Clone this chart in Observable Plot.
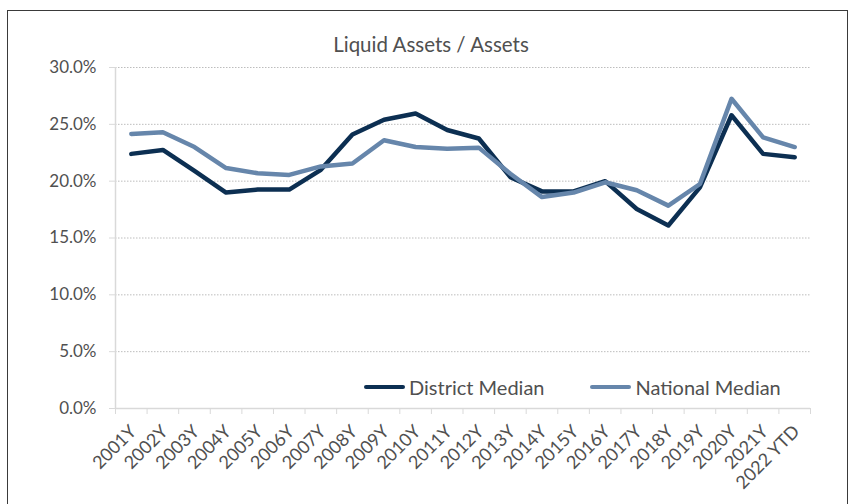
<!DOCTYPE html>
<html><head><meta charset="utf-8">
<script src="https://cdn.jsdelivr.net/npm/d3@7"></script>
<script src="https://cdn.jsdelivr.net/npm/@observablehq/plot@0.6"></script>
<style>
body{margin:0;background:#fff;font-family:Lato,"Open Sans",sans-serif;overflow:hidden;width:854px;height:504px;position:relative}
#frame{position:absolute;left:7px;top:10px;width:841px;height:600px;border:1.5px solid #3a3a3a;box-sizing:border-box}
#title{position:absolute;left:0;top:32px;width:862px;text-align:center;font-size:20.5px;line-height:24px;color:#505050}
#chart{position:absolute;left:0;top:0}
#legend{position:absolute;top:375px;left:364px;font-size:20px;line-height:24px;color:#505050;display:flex;align-items:center;white-space:nowrap}
#legend .sw{display:inline-block;width:41px;height:4.5px;border-radius:2px;margin-right:4px}
</style></head>
<body>
<div id="frame"></div>
<div id="chart"></div>
<div id="title">Liquid Assets / Assets</div>
<div id="legend"><span class="sw" style="background:#0c2f52"></span><span>District Median</span><span style="display:inline-block;width:46px"></span><span class="sw" style="background:#6686ab"></span><span>National Median</span></div>
<script>
const categories = ["2001Y","2002Y","2003Y","2004Y","2005Y","2006Y","2007Y","2008Y","2009Y","2010Y","2011Y","2012Y","2013Y","2014Y","2015Y","2016Y","2017Y","2018Y","2019Y","2020Y","2021Y","2022 YTD"];
const district = [22.4, 22.75, 20.9, 19.0, 19.26, 19.26, 21.0, 24.1, 25.4, 25.95, 24.5, 23.75, 20.35, 19.1, 19.1, 20.0, 17.55, 16.1, 19.45, 25.8, 22.4, 22.1];
const national = [24.15, 24.3, 23.0, 21.15, 20.7, 20.55, 21.3, 21.55, 23.6, 23.0, 22.85, 22.95, 20.65, 18.6, 19.0, 19.9, 19.2, 17.85, 19.75, 27.25, 23.85, 23.0];
const yTicks = [0, 5, 10, 15, 20, 25, 30];
const seriesNames = ["District Median", "National Median"];
const colors = ["#0c2f52", "#6686ab"];

const rows = [];
[district, national].forEach((vals, s) => vals.forEach((v, i) => rows.push({pos: i + 0.5, value: v, series: seriesNames[s]})));
const boundaries = d3.range(categories.length + 1);
const centers = categories.map((c, i) => i + 0.5);

const chart = Plot.plot({
  width: 854, height: 504,
  marginTop: 67, marginBottom: 96, marginLeft: 115, marginRight: 44,
  style: {fontFamily: "Lato, 'Open Sans', sans-serif", background: "transparent"},
  x: {domain: [0, categories.length]},
  y: {domain: [0, 30]},
  color: {domain: seriesNames, range: colors},
  marks: [
    Plot.gridY(yTicks.filter(d => d > 0), {stroke: "#bdbdbd", strokeOpacity: 1, strokeDasharray: "1.5,1.5", strokeWidth: 1}),
    Plot.ruleX([0], {stroke: "#d9d9d9", strokeWidth: 1.5}),
    Plot.ruleY([0], {stroke: "#d9d9d9", strokeWidth: 1.5}),
    Plot.axisY(yTicks, {tickSize: 6, tickPadding: 13, stroke: "#d9d9d9", fill: "#505050", fontSize: 17, tickFormat: d => d.toFixed(1) + "%", label: null}),
    Plot.axisX(boundaries, {tickSize: 6, stroke: "#d9d9d9", tickFormat: () => "", label: null}),
    Plot.axisX(centers, {tickSize: 0, tickPadding: 14, tickRotate: -45, dy: 6, dx: 2, fill: "#505050", fontSize: 18, tickFormat: d => categories[Math.floor(d)], label: null}),
    Plot.line(rows, {x: "pos", y: "value", z: "series", stroke: "series", strokeWidth: 4.5, strokeLinejoin: "round", strokeLinecap: "round"})
  ]
});
document.getElementById("chart").appendChild(chart);
</script>
</body></html>
